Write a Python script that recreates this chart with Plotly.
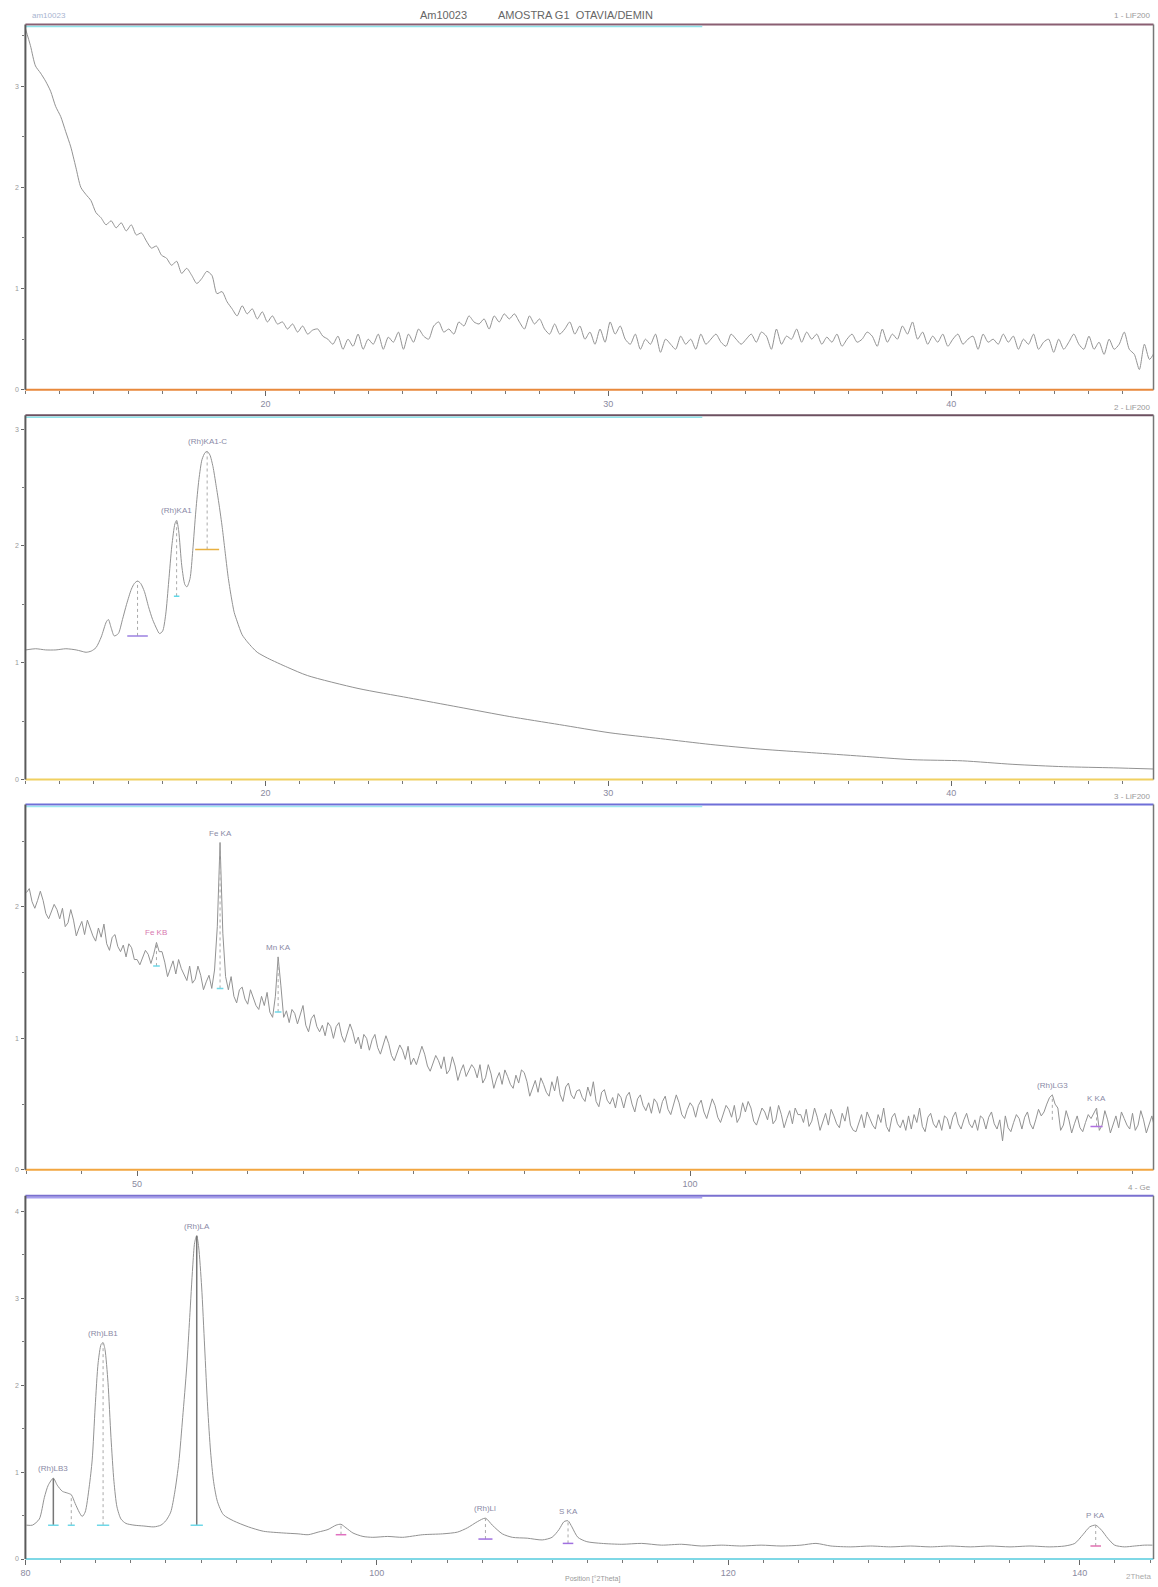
import plotly.graph_objects as go

# ---------------- scan data (intensity in kcps vs. angle in deg 2-theta) ----------------
# Scan 1 - LiF200, background region, regular steps
SCAN1_START = 13.0
SCAN1_STEP = 0.147
scan1_kcps = [
    3.57, 3.40, 3.20, 3.13, 3.05, 2.95, 2.80, 2.70, 2.55, 2.40,
    2.20, 2.00, 1.93, 1.87, 1.75, 1.70, 1.63, 1.67, 1.60, 1.65,
    1.57, 1.63, 1.53, 1.55, 1.47, 1.40, 1.42, 1.33, 1.30, 1.23,
    1.27, 1.15, 1.20, 1.13, 1.05, 1.10, 1.17, 1.13, 0.95, 0.97,
    0.87, 0.80, 0.73, 0.83, 0.75, 0.80, 0.70, 0.77, 0.67, 0.73,
    0.65, 0.67, 0.60, 0.65, 0.57, 0.63, 0.55, 0.59, 0.60, 0.53,
    0.50, 0.45, 0.53, 0.40, 0.50, 0.43, 0.55, 0.40, 0.50, 0.45,
    0.55, 0.40, 0.52, 0.47, 0.57, 0.40, 0.55, 0.47, 0.60, 0.53,
    0.50, 0.63, 0.67, 0.57, 0.60, 0.55, 0.67, 0.63, 0.73, 0.67,
    0.65, 0.70, 0.60, 0.73, 0.67, 0.75, 0.70, 0.75, 0.67, 0.60,
    0.73, 0.65, 0.70, 0.60, 0.55, 0.65, 0.55, 0.60, 0.67, 0.55,
    0.63, 0.50, 0.57, 0.45, 0.60, 0.47, 0.67, 0.55, 0.63, 0.50,
    0.45, 0.55, 0.40, 0.50, 0.45, 0.55, 0.37, 0.50, 0.45, 0.40,
    0.53, 0.45, 0.50, 0.40, 0.55, 0.45, 0.50, 0.55, 0.47, 0.43,
    0.55, 0.50, 0.45, 0.50, 0.55, 0.47, 0.57, 0.53, 0.40, 0.60,
    0.45, 0.53, 0.50, 0.60, 0.47, 0.57, 0.50, 0.55, 0.45, 0.52,
    0.47, 0.55, 0.43, 0.50, 0.55, 0.47, 0.50, 0.57, 0.53, 0.43,
    0.60, 0.47, 0.55, 0.50, 0.63, 0.55, 0.67, 0.50, 0.57, 0.45,
    0.53, 0.47, 0.55, 0.43, 0.50, 0.55, 0.45, 0.50, 0.53, 0.40,
    0.55, 0.47, 0.50, 0.45, 0.55, 0.47, 0.53, 0.40, 0.50, 0.45,
    0.55, 0.40, 0.47, 0.50, 0.37, 0.50, 0.40, 0.47, 0.55, 0.45,
    0.40, 0.53, 0.40, 0.47, 0.35, 0.50, 0.40, 0.45, 0.57, 0.40,
    0.35, 0.20, 0.45, 0.30, 0.37,
]

# Scan 2 - LiF200, Rh K lines (Rayleigh + Compton)
scan2_angle = [
    13.01, 13.30, 13.59, 13.89, 14.18, 14.48, 14.62, 14.77, 14.92, 15.06,
    15.21, 15.36, 15.42, 15.50, 15.59, 15.71, 15.83, 15.95, 16.09, 16.18, 16.27,
    16.36, 16.47, 16.59, 16.71, 16.83, 16.91, 17.00, 17.09, 17.18, 17.27,
    17.36, 17.41, 17.47, 17.56, 17.65, 17.71, 17.80, 17.88, 17.97, 18.06,
    18.15, 18.24, 18.30, 18.38, 18.47, 18.56, 18.65, 18.74, 18.82, 18.91,
    19.00, 19.09, 19.18, 19.32, 19.47, 19.62, 19.76, 20.06, 20.65, 21.23,
    22.70, 24.17, 25.64, 27.11, 28.58, 30.05, 31.52, 32.99, 34.45, 35.92,
    37.39, 38.86, 40.33, 41.80, 43.27, 44.74, 45.91,
]
scan2_kcps = [
    1.11, 1.12, 1.11, 1.11, 1.12, 1.11, 1.10, 1.09, 1.10, 1.13,
    1.22, 1.35, 1.37, 1.30, 1.23, 1.25, 1.37, 1.50, 1.63, 1.68, 1.70,
    1.68, 1.61, 1.48, 1.37, 1.29, 1.25, 1.27, 1.41, 1.70, 2.00,
    2.19, 2.22, 2.13, 1.83, 1.67, 1.65, 1.72, 1.96, 2.30, 2.57,
    2.74, 2.80, 2.81, 2.78, 2.68, 2.52, 2.35, 2.16, 1.96, 1.74,
    1.57, 1.43, 1.35, 1.24, 1.18, 1.13, 1.09, 1.04, 0.96, 0.89,
    0.78, 0.70, 0.62, 0.54, 0.47, 0.40, 0.35, 0.30, 0.26, 0.23,
    0.20, 0.17, 0.16, 0.13, 0.11, 0.10, 0.09,
]

# Scan 3 - LiF200, transition metals, regular steps
SCAN3_START = 40.0
SCAN3_STEP = 0.25
scan3_kcps = [
    2.11, 2.14, 2.04, 1.99, 2.05, 2.12, 2.05, 1.95, 1.91, 1.97, 2.02, 1.98, 1.91, 1.99, 1.85, 1.88, 1.98, 1.90, 1.78, 1.84,
    1.89, 1.79, 1.90, 1.84, 1.78, 1.74, 1.84, 1.77, 1.87, 1.72, 1.67, 1.77, 1.79, 1.70, 1.66, 1.71, 1.62, 1.72, 1.69, 1.60,
    1.60, 1.56, 1.62, 1.67, 1.64, 1.57, 1.64, 1.73, 1.66, 1.66, 1.58, 1.47, 1.53, 1.59, 1.49, 1.60, 1.53, 1.48, 1.44, 1.55,
    1.42, 1.45, 1.55, 1.48, 1.37, 1.43, 1.48, 1.38, 1.52, 1.85, 2.49, 1.80, 1.47, 1.37, 1.47, 1.32, 1.27, 1.37, 1.39, 1.30,
    1.26, 1.37, 1.31, 1.25, 1.22, 1.32, 1.25, 1.35, 1.20, 1.16, 1.32, 1.62, 1.40, 1.16, 1.21, 1.12, 1.22, 1.19, 1.11, 1.19,
    1.25, 1.10, 1.05, 1.15, 1.18, 1.09, 1.05, 1.10, 1.02, 1.12, 1.09, 1.00, 1.09, 1.12, 1.02, 0.97, 1.04, 1.11, 1.05, 0.96,
    1.01, 0.92, 1.03, 1.00, 0.91, 0.99, 1.03, 0.93, 0.88, 0.95, 1.02, 0.96, 0.87, 0.83, 0.89, 0.95, 0.91, 0.84, 0.94, 0.80,
    0.85, 0.80, 0.87, 0.94, 0.88, 0.79, 0.75, 0.81, 0.87, 0.83, 0.77, 0.86, 0.73, 0.76, 0.86, 0.79, 0.68, 0.75, 0.80, 0.71,
    0.75, 0.80, 0.77, 0.70, 0.80, 0.66, 0.70, 0.80, 0.73, 0.62, 0.69, 0.74, 0.65, 0.76, 0.71, 0.65, 0.62, 0.72, 0.66, 0.76,
    0.74, 0.67, 0.56, 0.63, 0.68, 0.59, 0.70, 0.65, 0.59, 0.56, 0.67, 0.60, 0.71, 0.57, 0.52, 0.63, 0.66, 0.57, 0.54, 0.60,
    0.61, 0.55, 0.52, 0.63, 0.56, 0.67, 0.52, 0.48, 0.59, 0.61, 0.53, 0.50, 0.55, 0.47, 0.58, 0.55, 0.47, 0.56, 0.59, 0.50,
    0.44, 0.54, 0.57, 0.49, 0.45, 0.51, 0.43, 0.54, 0.51, 0.43, 0.52, 0.56, 0.46, 0.42, 0.49, 0.57, 0.51, 0.42, 0.39, 0.46,
    0.51, 0.48, 0.40, 0.49, 0.53, 0.44, 0.39, 0.46, 0.54, 0.49, 0.40, 0.36, 0.43, 0.49, 0.46, 0.40, 0.49, 0.36, 0.40, 0.51,
    0.44, 0.52, 0.47, 0.37, 0.34, 0.41, 0.47, 0.44, 0.38, 0.48, 0.35, 0.38, 0.49, 0.42, 0.32, 0.39, 0.45, 0.35, 0.47, 0.42,
    0.42, 0.36, 0.46, 0.33, 0.37, 0.47, 0.40, 0.30, 0.37, 0.43, 0.34, 0.46, 0.41, 0.35, 0.32, 0.43, 0.37, 0.48, 0.34, 0.30,
    0.29, 0.36, 0.42, 0.32, 0.44, 0.39, 0.34, 0.31, 0.42, 0.36, 0.47, 0.33, 0.29, 0.40, 0.43, 0.35, 0.32, 0.38, 0.30, 0.41,
    0.31, 0.42, 0.36, 0.47, 0.33, 0.29, 0.40, 0.43, 0.35, 0.32, 0.38, 0.30, 0.41, 0.39, 0.31, 0.40, 0.44, 0.35, 0.31, 0.38,
    0.43, 0.35, 0.32, 0.38, 0.30, 0.41, 0.39, 0.31, 0.40, 0.44, 0.35, 0.31, 0.38, 0.22, 0.41, 0.32, 0.29, 0.36, 0.42, 0.39,
    0.31, 0.40, 0.44, 0.35, 0.31, 0.38, 0.46, 0.41, 0.44, 0.50, 0.55, 0.57, 0.50, 0.47, 0.30, 0.34, 0.45, 0.38, 0.28, 0.35,
    0.41, 0.32, 0.29, 0.36, 0.42, 0.39, 0.43, 0.47, 0.30, 0.34, 0.45, 0.38, 0.28, 0.35, 0.41, 0.32, 0.44, 0.39, 0.34, 0.31,
    0.43, 0.30, 0.34, 0.45, 0.38, 0.28, 0.35, 0.41, 0.32,
]

# Scan 4 - Ge crystal, light elements
scan4_angle = [
    80.06, 80.40, 80.79, 81.08, 81.30, 81.59, 81.81, 82.10, 82.38, 82.61,
    82.83, 83.06, 83.23, 83.40, 83.63, 83.80, 83.97, 84.14, 84.31, 84.42,
    84.53, 84.70, 84.87, 85.04, 85.21, 85.44, 85.72, 86.18, 86.74, 87.31,
    87.71, 87.99, 88.27, 88.50, 88.73, 88.95, 89.18, 89.35, 89.52, 89.63,
    89.75, 89.86, 90.03, 90.20, 90.37, 90.54, 90.71, 90.93, 91.27, 91.84,
    92.69, 93.54, 94.67, 95.52, 96.09, 96.66, 97.22, 97.68, 97.96, 98.24,
    98.64, 99.21, 99.77, 100.62, 101.47, 102.61, 103.74, 104.59, 105.16, 105.72,
    106.18, 106.57, 107.14, 107.71, 108.56, 109.41, 109.97, 110.37, 110.65, 110.88,
    111.10, 111.44, 111.95, 112.80, 113.94, 115.07, 116.20, 117.34, 118.47, 119.60,
    120.74, 121.87, 123.00, 124.14, 124.99, 125.84, 126.97, 128.10, 129.24, 130.37,
    131.50, 132.64, 133.77, 134.90, 136.03, 137.17, 138.30, 139.15, 139.72, 140.18,
    140.57, 140.91, 141.25, 141.59, 141.99, 142.55, 143.12, 143.68, 144.14,
]
scan4_kcps = [
    0.39, 0.39, 0.46, 0.71, 0.85, 0.93, 0.85, 0.78, 0.76, 0.74,
    0.64, 0.54, 0.49, 0.54, 0.83, 1.14, 1.75, 2.26, 2.47, 2.49,
    2.41, 2.03, 1.40, 0.89, 0.60, 0.46, 0.41, 0.39, 0.38, 0.37,
    0.39, 0.44, 0.54, 0.77, 1.11, 1.63, 2.21, 2.78, 3.36, 3.64,
    3.72, 3.59, 3.13, 2.44, 1.75, 1.23, 0.89, 0.66, 0.51, 0.44,
    0.37, 0.32, 0.30, 0.29, 0.28, 0.31, 0.34, 0.39, 0.40, 0.36,
    0.30, 0.26, 0.25, 0.26, 0.25, 0.28, 0.29, 0.31, 0.36, 0.43,
    0.47, 0.39, 0.29, 0.25, 0.24, 0.22, 0.25, 0.34, 0.43, 0.44,
    0.37, 0.25, 0.20, 0.18, 0.17, 0.18, 0.16, 0.17, 0.15, 0.16,
    0.15, 0.16, 0.15, 0.16, 0.18, 0.15, 0.14, 0.15, 0.14, 0.15,
    0.14, 0.15, 0.14, 0.15, 0.14, 0.15, 0.14, 0.15, 0.18, 0.28,
    0.37, 0.39, 0.33, 0.24, 0.16, 0.14, 0.15, 0.16, 0.16,
]

# ---------------- identified lines: (label, angle, top, base) ----------------
scan2_lines = [("", 16.27, 1.70, 1.23), ("(Rh)KA1", 17.41, 2.22, 1.57), ("(Rh)KA1-C", 18.30, 2.81, 1.97)]
scan3_lines = [("Fe KB", 51.75, 1.73, 1.55), ("Fe KA", 57.50, 2.49, 1.38), ("Mn KA", 62.75, 1.62, 1.20),
               ("(Rh)LG3", 132.75, 0.57, 0.38), ("K KA", 136.75, 0.47, 0.33)]
scan4_lines = [("(Rh)LB3", 81.59, 0.93, 0.39), ("", 82.61, 0.74, 0.39), ("(Rh)LB1", 84.42, 2.49, 0.39),
               ("(Rh)LA", 89.75, 3.72, 0.39), ("", 97.96, 0.40, 0.28), ("(Rh)Ll", 106.18, 0.47, 0.23),
               ("S KA", 110.88, 0.44, 0.18), ("P KA", 140.91, 0.39, 0.15)]

W, H = 1158, 1587
X_DOM = [20.5 / W, 1153.5 / W]
# panel boxes in pixels (top, bottom)
PANELS = [(24.5, 390.5), (416.0, 781.0), (806.0, 1172.0), (1198.0, 1562.0)]
X_RANGES = [[13.0, 45.9], [13.0, 45.9], [39.9, 141.9], [80.0, 144.2]]
Y_RANGES = [[0, 3.61], [0, 3.12], [0, 2.78], [0, 4.18]]
X_DTICK = [(10, 1), (10, 1), (50, 5), (20, 2)]
Y_DTICK = [(1, 0.5), (1, 0.5), (1, 0.5), (1, 0.5)]
SMOOTH = ["spline", "spline", "linear", "spline"]

LINE = "#929292"
FONT = "Liberation Sans, Arial, sans-serif"

fig = go.Figure()

scan1_angle = [round(SCAN1_START + i * SCAN1_STEP, 3) for i in range(len(scan1_kcps))]
scan3_angle = [round(SCAN3_START + i * SCAN3_STEP, 3) for i in range(len(scan3_kcps))]
series = [(scan1_angle, scan1_kcps), (scan2_angle, scan2_kcps), (scan3_angle, scan3_kcps), (scan4_angle, scan4_kcps)]

for i, (xs, ys) in enumerate(series):
    sfx = "" if i == 0 else str(i + 1)
    fig.add_trace(go.Scatter(x=xs, y=ys, mode="lines", xaxis="x" + sfx, yaxis="y" + sfx,
                             line=dict(color=LINE, width=1, shape=SMOOTH[i], smoothing=0.7),
                             hoverinfo="skip", showlegend=False))

layout = dict(width=W, height=H, margin=dict(l=0, r=0, t=0, b=0),
              paper_bgcolor="white", plot_bgcolor="white", showlegend=False,
              font=dict(family=FONT, color="#888"))
for i in range(4):
    sfx = "" if i == 0 else str(i + 1)
    top, bot = PANELS[i]
    ydom = [1 - bot / H, 1 - top / H]
    layout["xaxis" + sfx] = dict(domain=X_DOM, range=X_RANGES[i], anchor="y" + sfx,
                                 showgrid=False, zeroline=False, showline=False,
                                 ticks="outside", ticklen=5, tickcolor="#666", tickwidth=1,
                                 dtick=X_DTICK[i][0], tick0=0,
                                 minor=dict(ticks="outside", dtick=X_DTICK[i][1], tick0=0, ticklen=3, tickcolor="#777"),
                                 tickfont=dict(size=9, color="#8a8aa0"), ticklabelstandoff=0)
    layout["yaxis" + sfx] = dict(domain=ydom, range=Y_RANGES[i], anchor="x" + sfx,
                                 showgrid=False, zeroline=False, showline=False,
                                 ticks="outside", ticklen=3, tickcolor="#666",
                                 dtick=Y_DTICK[i][0], tick0=0,
                                 minor=dict(ticks="outside", dtick=Y_DTICK[i][1], tick0=0, ticklen=2, tickcolor="#777"),
                                 tickfont=dict(size=7, color="#999"), ticklabelstandoff=1)
fig.update_layout(**layout)

shapes = []
# panel frames
TOP_COL = ["#8a5f72", "#6d5060", "#6f6fd8", "#7a70d0"]
TOP_UNDER = ["#8fe3ea", "#8fe3ea", "#9ee8f0", "#a7a0f0"]
BOT_COL = ["#e8893c", "#f0d060", "#f2a640", "#7fd8e6"]
x0p, x1p = X_DOM
for i, (top, bot) in enumerate(PANELS):
    yt, yb = 1 - top / H, 1 - bot / H
    shapes.append(dict(type="line", xref="paper", yref="paper", x0=x0p, x1=x1p, y0=yt, y1=yt,
                       line=dict(color=TOP_COL[i], width=2)))
    shapes.append(dict(type="line", xref="paper", yref="paper", x0=x0p, x1=x0p + 0.6 * (x1p - x0p),
                       y0=yt - 2 / H, y1=yt - 2 / H, line=dict(color=TOP_UNDER[i], width=1.5)))
    shapes.append(dict(type="line", xref="paper", yref="paper", x0=x0p, x1=x1p, y0=yb, y1=yb,
                       line=dict(color=BOT_COL[i], width=2)))
    shapes.append(dict(type="line", xref="paper", yref="paper", x0=x0p, x1=x0p, y0=yb, y1=yt,
                       line=dict(color="#5a5a5a", width=2)))
    shapes.append(dict(type="line", xref="paper", yref="paper", x0=x1p, x1=x1p, y0=yb, y1=yt,
                       line=dict(color="#777", width=1.5)))

annotations = []


def mark_lines(lines, sfx, widths, colors, solid=()):
    for k, (name, ang, top, base) in enumerate(lines):
        dash = "solid" if k in solid else "dot"
        shapes.append(dict(type="line", xref="x" + sfx, yref="y" + sfx, x0=ang, x1=ang, y0=base, y1=top,
                           line=dict(color="#777" if k in solid else "#aaa", width=1.5 if k in solid else 1, dash=dash)))
        w = widths[k]
        if w:
            shapes.append(dict(type="line", xref="x" + sfx, yref="y" + sfx, x0=ang - w, x1=ang + w,
                               y0=base, y1=base, line=dict(color=colors[k], width=1.5)))
        if name:
            annotations.append(dict(x=ang, y=top, xref="x" + sfx, yref="y" + sfx, text=name,
                                    showarrow=False, yanchor="bottom", yshift=3,
                                    font=dict(size=8, color="#8a8aa6", family=FONT)))


mark_lines(scan2_lines, "2", [0.3, 0.08, 0.35], ["#9b80e0", "#5fd8e8", "#e8b040"])
mark_lines(scan3_lines, "3", [0.3, 0.3, 0.3, 0, 0.55], ["#6fd8e8", "#6fd8e8", "#6fd8e8", "#ccc", "#b070e0"])
mark_lines(scan4_lines, "4", [0.3, 0.2, 0.35, 0.35, 0.3, 0.4, 0.3, 0.3],
           ["#6fd8e8", "#6fd8e8", "#6fd8e8", "#6fd8e8", "#e070c0", "#a070e0", "#a070e0", "#e070b0"],
           solid=(0, 3))
# Fe KB label is drawn in magenta in the instrument output
for a in annotations:
    if a["text"] == "Fe KB":
        a["font"]["color"] = "#d878b0"


def txt(x, y, s, size=9, color="#888", anchor="center"):
    annotations.append(dict(x=x / W, y=1 - y / H, xref="paper", yref="paper", text=s, showarrow=False,
                            xanchor=anchor, yanchor="middle", font=dict(size=size, color=color, family=FONT)))


txt(415, 15, "Am10023", 11, "#666", "left")
txt(493, 15, "AMOSTRA G1\u00a0 OTAVIA/DEMIN", 11, "#666", "left")
txt(25, 16, "am10023", 8, "#a8b4d0", "left")
txt(1153, 16, "1 - LiF200", 8, "#999", "right")
txt(1153, 408, "2 - LiF200", 8, "#999", "right")
txt(1153, 798, "3 - LiF200", 8, "#999", "right")
txt(1153, 1190, "4 - Ge", 8, "#999", "right")
txt(590, 1582, "Position [\u00b02Theta]", 7, "#999")
txt(1153, 1579, "2Theta", 8, "#aaa", "right")

fig.update_layout(shapes=shapes, annotations=annotations)
fig.write_html("out.html")
